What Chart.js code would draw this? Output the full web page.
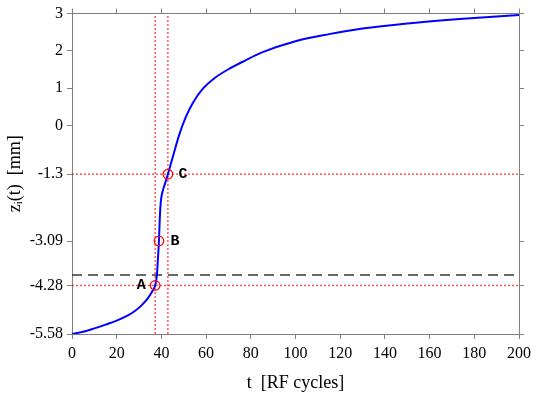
<!DOCTYPE html>
<html><head><meta charset="utf-8">
<script src="https://cdn.jsdelivr.net/npm/chart.js@4/dist/chart.umd.min.js"></script>
<style>html,body{margin:0;padding:0;background:#fff}</style>
</head><body>
<canvas id="c" width="536" height="399"></canvas>
<script>
// ---- data ----
const tValues = [0, 5, 10, 15, 20, 25, 28, 31, 34, 36, 37.2, 38, 38.4, 38.9, 39.3, 39.8, 40.6, 41.7, 42.9, 45, 48, 51, 54, 58, 64, 70, 77, 85, 100, 115, 130, 150, 175, 200];
const zValues = [-5.58, -5.52, -5.43, -5.33, -5.22, -5.08, -4.97, -4.82, -4.62, -4.43, -4.28, -4.0, -3.62, -3.09, -2.45, -2.0, -1.75, -1.54, -1.3, -0.86, -0.24, 0.24, 0.6, 0.95, 1.28, 1.51, 1.73, 1.96, 2.26, 2.45, 2.6, 2.735, 2.86, 2.96];
const markerT = [37.2, 38.9, 42.9];
const markerZ = [-4.28, -3.09, -1.3];
const markerLabels = ['A', 'B', 'C'];
const guideT = [37.2, 42.9];
const guideZ = [-1.3, -4.28];
const thresholdZ = -4.0;
const xRange = [0, 200];
const xStep = 20;
const yTickValues = [3, 2, 1, 0, -1.3, -3.09, -4.28, -5.58];
const yTickLabels = ['3', '2', '1', '0', '-1.3', '-3.09', '-4.28', '-5.58'];
const xTitle = 't  [RF cycles]';
const yTitle = 'zᵢ(t)  [mm]';

// ---- styles ----
const AXIS = '#7f7f7f';
const tickFont = {family: "'Liberation Serif', serif", size: 16};
const titleFont = {family: "'Liberation Serif', serif", size: 18};
const labelOffsets = [[-14, 0], [16, 0], [15, 0]];

const yMin = Math.min(...yTickValues), yMax = Math.max(...yTickValues);

const datasets = [];
datasets.push({
  label: 'markers', order: 0,
  data: markerT.map((t, i) => ({x: t, y: markerZ[i]})),
  showLine: false, pointStyle: 'circle', pointRadius: 4.8,
  pointBorderColor: '#ff0000', pointBackgroundColor: 'rgba(0,0,0,0)', pointBorderWidth: 1.2
});
datasets.push({
  label: 'z', order: 1,
  data: tValues.map((t, i) => ({x: t, y: zValues[i]})),
  showLine: true, borderColor: '#0000ff', borderWidth: 2, pointRadius: 0,
  cubicInterpolationMode: 'monotone'
});
guideT.forEach(t => datasets.push({
  label: 'gv', order: 3, data: [{x: t, y: yMin}, {x: t, y: yMax}],
  showLine: true, borderColor: 'rgba(255,0,0,0.7)', borderWidth: 1.4, borderDash: [2, 2], pointRadius: 0
}));
guideZ.forEach(z => datasets.push({
  label: 'gh', order: 3, data: [{x: xRange[0], y: z}, {x: xRange[1], y: z}],
  showLine: true, borderColor: 'rgba(255,0,0,0.7)', borderWidth: 1.4, borderDash: [2, 2], pointRadius: 0
}));
datasets.push({
  label: 'thr', order: 2, data: [{x: xRange[0], y: thresholdZ}, {x: xRange[1], y: thresholdZ}],
  showLine: true, borderColor: '#3a3a3a', borderWidth: 1.4, borderDash: [10, 6], pointRadius: 0
});

const letterPlugin = {
  id: 'letters',
  afterDatasetsDraw(chart) {
    const {ctx, scales: {x, y}} = chart;
    ctx.save();
    ctx.font = "bold 15px 'Liberation Mono', monospace";
    ctx.fillStyle = '#000';
    ctx.textAlign = 'center';
    ctx.textBaseline = 'middle';
    markerLabels.forEach((s, i) => {
      ctx.fillText(s, x.getPixelForValue(markerT[i]) + labelOffsets[i][0], y.getPixelForValue(markerZ[i]) + labelOffsets[i][1]);
    });
    ctx.restore();
  }
};

const gridOpt = {display: true, drawOnChartArea: false, drawTicks: true, tickLength: 5, color: AXIS, lineWidth: 1};
const borderOpt = {display: true, color: AXIS, width: 1};
const setYTicks = s => { s.ticks = yTickValues.map(v => ({value: v})); };

new Chart(document.getElementById('c'), {
  type: 'scatter',
  data: {datasets},
  plugins: [letterPlugin],
  options: {
    responsive: false, animation: false, devicePixelRatio: 1,
    layout: {padding: 0},
    plugins: {legend: {display: false}, tooltip: {enabled: false}},
    scales: {
      x: {type: 'linear', position: 'bottom', min: xRange[0], max: xRange[1],
        ticks: {stepSize: xStep, font: tickFont, color: '#000', padding: 5, maxRotation: 0},
        grid: gridOpt, border: borderOpt,
        title: {display: true, text: xTitle, font: titleFont, color: '#000', padding: {top: 0, bottom: 5}},
        afterFit: s => { s.height = 65; }},
      x2: {type: 'linear', position: 'top', min: xRange[0], max: xRange[1],
        ticks: {stepSize: xStep, display: false},
        grid: gridOpt, border: borderOpt,
        afterFit: s => { s.height = 9; }},
      y: {type: 'linear', position: 'left', min: yMin, max: yMax,
        afterBuildTicks: setYTicks,
        ticks: {font: tickFont, color: '#000', padding: 4,
          callback: v => { const i = yTickValues.indexOf(v); return i >= 0 ? yTickLabels[i] : ''; }},
        grid: gridOpt, border: borderOpt,
        title: {display: true, text: yTitle, font: titleFont, color: '#000', padding: {top: 4, bottom: 0}},
        afterFit: s => { s.width = 72; }},
      y2: {type: 'linear', position: 'right', min: yMin, max: yMax,
        afterBuildTicks: setYTicks,
        ticks: {display: false},
        grid: gridOpt, border: borderOpt,
        afterFit: s => { s.width = 14; }}
    }
  }
});
</script>
</body></html>
